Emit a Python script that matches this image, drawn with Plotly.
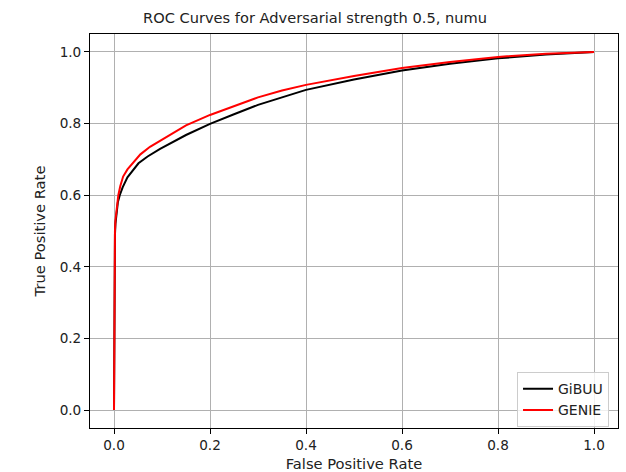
import plotly.graph_objects as go

# GiBUU (black) ROC curve estimates
gibuu_fpr = [0.0, 0.0005, 0.001, 0.002, 0.003, 0.005, 0.008, 0.012, 0.018, 0.028, 0.040, 0.051, 0.07, 0.096,
             0.15, 0.2, 0.25, 0.3, 0.35, 0.4, 0.5, 0.6, 0.7, 0.8, 0.9, 1.0]
gibuu_tpr = [0.0, 0.30, 0.42, 0.49, 0.52, 0.55, 0.58, 0.60, 0.622, 0.650, 0.672, 0.689, 0.708, 0.729,
             0.768, 0.799, 0.826, 0.852, 0.873, 0.894, 0.923, 0.948, 0.967, 0.982, 0.993, 1.0]

# GENIE (red) ROC curve estimates
genie_fpr = [0.0, 0.0005, 0.001, 0.002, 0.003, 0.005, 0.009, 0.013, 0.019, 0.028, 0.040, 0.055, 0.075, 0.098,
             0.15, 0.2, 0.25, 0.3, 0.35, 0.4, 0.5, 0.6, 0.7, 0.8, 0.9, 1.0]
genie_tpr = [0.0, 0.30, 0.42, 0.50, 0.53, 0.558, 0.60, 0.625, 0.652, 0.672, 0.692, 0.714, 0.735, 0.754,
             0.795, 0.824, 0.849, 0.873, 0.892, 0.908, 0.933, 0.955, 0.972, 0.986, 0.995, 1.0]

title_text = "ROC Curves for Adversarial strength 0.5, numu"
x_label = "False Positive Rate"
y_label = "True Positive Rate"
tick_vals = [0.0, 0.2, 0.4, 0.6, 0.8, 1.0]
tick_text = ["0.0", "0.2", "0.4", "0.6", "0.8", "1.0"]

font_family = "DejaVu Sans"

fig = go.Figure()
fig.add_trace(go.Scatter(x=gibuu_fpr, y=gibuu_tpr, mode="lines", name="GiBUU",
                         line=dict(color="black", width=2)))
fig.add_trace(go.Scatter(x=genie_fpr, y=genie_tpr, mode="lines", name="GENIE",
                         line=dict(color="red", width=2)))

axis_common = dict(
    range=[-0.05, 1.05], tickvals=tick_vals, ticktext=tick_text,
    showgrid=True, gridcolor="#b0b0b0", gridwidth=1,
    zeroline=False, showline=True, linecolor="black", linewidth=1, mirror=True,
    ticks="outside", ticklen=5, tickcolor="black", tickwidth=1,
    tickfont=dict(family=font_family, size=13.6, color="#222"),
    automargin=False,
)

fig.update_layout(
    width=626, height=472,
    margin=dict(l=90, r=8, t=34, b=44, autoexpand=False),
    paper_bgcolor="white", plot_bgcolor="white",
    font=dict(family=font_family, size=14, color="#222"),
    title=dict(text=title_text, x=315 / 626, xanchor="center",
               y=1 - 18 / 472, yanchor="middle", yref="container",
               font=dict(family=font_family, size=14.6, color="#222")),
    xaxis=dict(axis_common, title=dict(text=x_label, standoff=10,
                                       font=dict(family=font_family, size=14.7))),
    yaxis=dict(axis_common, title=dict(text=y_label, standoff=10,
                                       font=dict(family=font_family, size=14.7))),
    legend=dict(x=0.983, y=0.002, xanchor="right", yanchor="bottom",
                bgcolor="rgba(255,255,255,0.8)", bordercolor="#cccccc", borderwidth=1,
                font=dict(family=font_family, size=14, color="#222"),
                tracegroupgap=2),
    showlegend=True,
)

fig.write_html("out.html")
